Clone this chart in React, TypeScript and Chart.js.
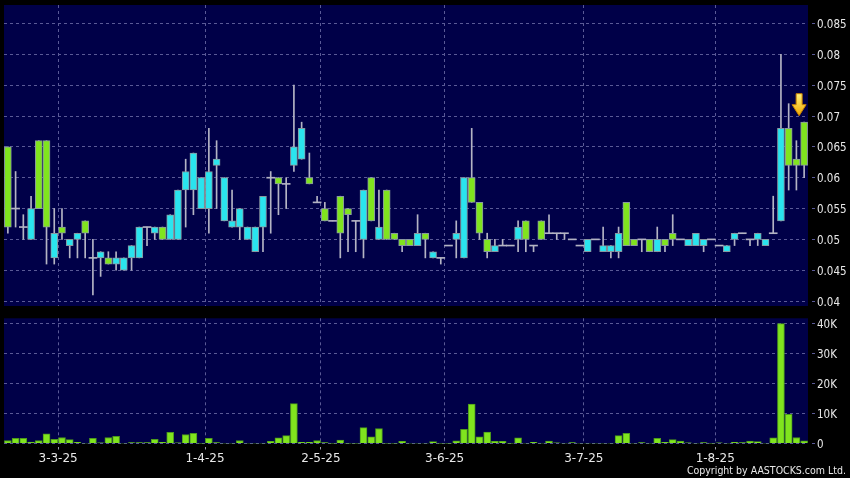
import React, { useEffect, useRef } from "react";
import { Chart, registerables } from "chart.js";
Chart.register(...registerables);

// ---- data (one entry per trading slot, left to right) ----
const opens = [
  0.065, 0.055, 0.052, 0.050, 0.066, 0.066, 0.047, 0.052, 0.049, 0.050,
  0.053, 0.047, 0.047, 0.047, 0.046, 0.045, 0.047, 0.047, 0.052, 0.051,
  0.052, 0.050, 0.050, 0.058, 0.058, 0.055, 0.055, 0.062, 0.053, 0.052,
  0.052, 0.050, 0.048, 0.052, 0.060, 0.060, 0.059, 0.062, 0.063, 0.060,
  0.056, 0.055, 0.053, 0.057, 0.055, 0.053, 0.050, 0.060, 0.050, 0.058,
  0.051, 0.050, 0.050, 0.049, 0.051, 0.047, 0.047, 0.049, 0.050, 0.047,
  0.060, 0.056, 0.050, 0.048, 0.049, 0.049, 0.050, 0.053, 0.049, 0.053,
  0.051, 0.051, 0.051, 0.050, 0.049, 0.048, 0.050, 0.048, 0.048, 0.048,
  0.056, 0.050, 0.050, 0.050, 0.048, 0.050, 0.051, 0.050, 0.049, 0.049,
  0.049, 0.050, 0.049, 0.048, 0.050, 0.051, 0.050, 0.050, 0.049, 0.051,
  0.053, 0.068, 0.063, 0.069,
];
const highs = [
  0.065, 0.061, 0.054, 0.057, 0.066, 0.066, 0.055, 0.055, 0.050, 0.051,
  0.053, 0.050, 0.048, 0.048, 0.048, 0.047, 0.049, 0.052, 0.052, 0.052,
  0.052, 0.054, 0.058, 0.063, 0.064, 0.060, 0.068, 0.066, 0.060, 0.058,
  0.055, 0.052, 0.052, 0.057, 0.061, 0.060, 0.060, 0.075, 0.069, 0.064,
  0.057, 0.056, 0.053, 0.057, 0.055, 0.053, 0.058, 0.060, 0.058, 0.058,
  0.051, 0.050, 0.050, 0.054, 0.051, 0.048, 0.047, 0.049, 0.053, 0.060,
  0.068, 0.056, 0.051, 0.050, 0.050, 0.049, 0.053, 0.053, 0.049, 0.053,
  0.054, 0.051, 0.051, 0.050, 0.049, 0.050, 0.050, 0.052, 0.049, 0.052,
  0.056, 0.050, 0.050, 0.050, 0.052, 0.050, 0.054, 0.050, 0.050, 0.051,
  0.050, 0.050, 0.049, 0.049, 0.051, 0.051, 0.050, 0.051, 0.050, 0.057,
  0.080, 0.072, 0.066, 0.069,
];
const lows = [
  0.051, 0.052, 0.050, 0.050, 0.055, 0.046, 0.046, 0.050, 0.047, 0.047,
  0.047, 0.041, 0.044, 0.046, 0.045, 0.045, 0.045, 0.047, 0.049, 0.050,
  0.050, 0.050, 0.050, 0.052, 0.054, 0.055, 0.051, 0.055, 0.053, 0.052,
  0.050, 0.050, 0.048, 0.048, 0.051, 0.054, 0.055, 0.061, 0.063, 0.059,
  0.056, 0.053, 0.053, 0.047, 0.048, 0.048, 0.047, 0.053, 0.050, 0.050,
  0.050, 0.048, 0.049, 0.049, 0.047, 0.047, 0.046, 0.049, 0.047, 0.047,
  0.056, 0.050, 0.047, 0.048, 0.049, 0.049, 0.048, 0.048, 0.048, 0.050,
  0.051, 0.050, 0.050, 0.050, 0.049, 0.048, 0.050, 0.048, 0.047, 0.047,
  0.049, 0.049, 0.048, 0.048, 0.048, 0.048, 0.049, 0.050, 0.049, 0.049,
  0.048, 0.050, 0.049, 0.048, 0.049, 0.051, 0.049, 0.049, 0.049, 0.051,
  0.053, 0.058, 0.058, 0.060,
];
const closes = [
  0.052, 0.055, 0.052, 0.055, 0.055, 0.052, 0.051, 0.051, 0.050, 0.051,
  0.051, 0.047, 0.048, 0.046, 0.047, 0.047, 0.049, 0.052, 0.052, 0.052,
  0.050, 0.054, 0.058, 0.061, 0.064, 0.060, 0.061, 0.063, 0.060, 0.053,
  0.055, 0.052, 0.052, 0.057, 0.060, 0.059, 0.059, 0.065, 0.068, 0.059,
  0.056, 0.053, 0.053, 0.051, 0.054, 0.053, 0.058, 0.053, 0.052, 0.050,
  0.050, 0.049, 0.049, 0.051, 0.050, 0.048, 0.047, 0.049, 0.051, 0.060,
  0.056, 0.051, 0.048, 0.049, 0.049, 0.049, 0.052, 0.050, 0.049, 0.050,
  0.051, 0.051, 0.051, 0.050, 0.049, 0.050, 0.050, 0.049, 0.049, 0.051,
  0.049, 0.049, 0.050, 0.048, 0.050, 0.049, 0.050, 0.050, 0.050, 0.051,
  0.050, 0.050, 0.049, 0.049, 0.051, 0.051, 0.050, 0.051, 0.050, 0.051,
  0.068, 0.062, 0.062, 0.062,
];
const volumes = [
  1000, 1700, 1700, 500, 1000, 3200, 1400, 2000, 1300, 400,
  100, 1700, 200, 2000, 2400, 100, 300, 300, 300, 1400,
  400, 3700, 200, 3000, 3400, 50, 1700, 300, 100, 100,
  1000, 100, 100, 100, 700, 1900, 2600, 13300, 400, 400,
  1000, 300, 50, 1100, 50, 50, 5300, 2200, 5000, 50,
  50, 700, 100, 100, 100, 600, 50, 50, 900, 4700,
  13100, 2200, 3800, 700, 700, 50, 1900, 100, 400, 100,
  800, 200, 100, 300, 100, 100, 100, 100, 100, 2600,
  3400, 100, 300, 100, 1700, 400, 1300, 800, 200, 100,
  300, 50, 200, 100, 400, 300, 800, 600, 100, 1900,
  39900, 9700, 2000, 900,
];
const dateTickSlots = [7.5, 26.5, 41.5, 57.5, 75.5, 92.5];
const dateTickLabels = ["3-3-25", "1-4-25", "2-5-25", "3-6-25", "3-7-25", "1-8-25"];
const priceTicks = [0.04, 0.045, 0.05, 0.055, 0.06, 0.065, 0.07, 0.075, 0.08, 0.085];
const volumeTicks = [0, 10000, 20000, 30000, 40000];

// ---- styles ----
const PLOT_BG = "#000048";
const GRID = "#5a5a96";
const UP = "#2ae4ee";
const DOWN = "#80e41e";
const BODY_EDGE = "#8898a0";
const WICK = "#b4b4c4";
const VOL_FILL = "#80e41e";
const VOL_EDGE = "#4c9a1c";
const TEXT = "#e8e8e8";
const FONT = "'DejaVu Sans', sans-serif";
const FONT_NARROW = "'DejaVu Sans Condensed', 'DejaVu Sans', sans-serif";
const N = opens.length;

const plotBg = {
  id: "plotBg",
  beforeDraw(chart: any) {
    const { ctx, chartArea: a } = chart;
    ctx.save();
    ctx.fillStyle = PLOT_BG;
    ctx.fillRect(a.left, a.top, a.right - a.left, a.bottom - a.top);
    ctx.restore();
  },
};

const arrowPlugin = {
  id: "lastArrow",
  afterDatasetsDraw(chart: any) {
    const i = N - 1;
    const { ctx } = chart;
    const x = chart.scales.x.getPixelForValue(i + 1) - 5;
    const tip = chart.scales.y.getPixelForValue(Math.max(opens[i], closes[i])) - 6.5;
    const top = tip - 22;
    ctx.save();
    const g = ctx.createLinearGradient(0, top, 0, tip);
    g.addColorStop(0, "#fff27a");
    g.addColorStop(1, "#f0a800");
    ctx.fillStyle = g;
    ctx.strokeStyle = "#c88000";
    ctx.lineWidth = 1;
    ctx.beginPath();
    ctx.moveTo(x - 3, top);
    ctx.lineTo(x + 3, top);
    ctx.lineTo(x + 3, tip - 11);
    ctx.lineTo(x + 7, tip - 11);
    ctx.lineTo(x, tip);
    ctx.lineTo(x - 7, tip - 11);
    ctx.lineTo(x - 3, tip - 11);
    ctx.closePath();
    ctx.fill();
    ctx.stroke();
    ctx.restore();
  },
};

function zeroPad(s: any) {
  s.paddingTop = 0;
  s.paddingBottom = 0;
  s.paddingLeft = 0;
  s.paddingRight = 0;
}

function xScale(showLabels: boolean) {
  return {
    type: "linear" as const,
    min: 0.5,
    max: N + 0.5,
    offset: false,
    afterBuildTicks: (s: any) => {
      s.ticks = dateTickSlots.map((v) => ({ value: v }));
    },
    afterFit: (s: any) => {
      s.height = showLabels ? 34.5 : 0;
      zeroPad(s);
    },
    border: { display: false, dash: [3, 3] },
    grid: {
      offset: false,
      color: GRID,
      lineWidth: 1,
      drawTicks: showLabels,
      tickLength: 6,
      tickColor: "#9a9aaa",
      tickBorderDash: [0, 3, 3],
    },
    ticks: {
      display: showLabels,
      autoSkip: false,
      maxRotation: 0,
      padding: 2,
      color: TEXT,
      font: { family: FONT, size: 12 },
      callback: (v: any) => {
        const k = dateTickSlots.indexOf(Number(v));
        return k >= 0 ? dateTickLabels[k] : "";
      },
    },
  };
}

function yScale(min: number, max: number, ticks: number[], fmt: (v: number) => string) {
  return {
    type: "linear" as const,
    position: "right" as const,
    min,
    max,
    afterBuildTicks: (s: any) => {
      s.ticks = ticks.map((v) => ({ value: v }));
    },
    afterFit: (s: any) => {
      s.width = 42;
      zeroPad(s);
    },
    border: { display: false, dash: [3, 3] },
    grid: {
      color: GRID,
      lineWidth: 1,
      drawTicks: true,
      tickLength: 7,
      tickColor: GRID,
      tickBorderDash: [0, 4, 3],
    },
    ticks: {
      padding: 2,
      labelOffset: 1.5,
      color: TEXT,
      font: { family: FONT_NARROW, size: 11.5 },
      callback: (v: any) => fmt(Number(v)),
    },
  };
}

export default function App() {
  const priceRef = useRef<HTMLCanvasElement>(null);
  const volRef = useRef<HTMLCanvasElement>(null);

  useEffect(() => {
    const idx = opens.map((_, i) => i);
    const wickData = idx.map((i) => ({ x: i + 1, y: [lows[i], highs[i]] }));
    const bodyIdx = idx.filter((i) => opens[i] !== closes[i]);
    const bodyData = bodyIdx.map((i) => ({
      x: i + 1,
      y: [Math.min(opens[i], closes[i]), Math.max(opens[i], closes[i])],
    }));
    const bodyColors = bodyIdx.map((i) => (closes[i] > opens[i] ? UP : DOWN));
    const dojiHalf = 0.00008;
    const dojiData = idx
      .filter((i) => opens[i] === closes[i])
      .map((i) => ({ x: i + 1, y: [opens[i] - dojiHalf, opens[i] + dojiHalf] }));

    const price = new Chart(priceRef.current!, {
      type: "bar",
      data: {
        datasets: [
          {
            label: "wick",
            data: wickData as any,
            backgroundColor: WICK,
            borderWidth: 0,
            barThickness: 1,
            grouped: false,
            order: 3,
          } as any,
          {
            label: "body",
            data: bodyData as any,
            backgroundColor: bodyColors,
            borderColor: BODY_EDGE,
            borderWidth: 1,
            borderSkipped: false,
            barThickness: 7,
            grouped: false,
            order: 2,
          } as any,
          {
            label: "doji",
            data: dojiData as any,
            backgroundColor: WICK,
            borderWidth: 0,
            barThickness: 8,
            grouped: false,
            order: 1,
          } as any,
        ],
      },
      options: {
        animation: false,
        responsive: false,
        maintainAspectRatio: false,
        layout: { padding: { left: 4, top: 5, bottom: 6, right: 0 } },
        plugins: { legend: { display: false }, tooltip: { enabled: false } },
        scales: {
          x: xScale(false) as any,
          y: yScale(0.0392, 0.088, priceTicks, (v) => String(Number(v.toFixed(3)))) as any,
        },
      },
      plugins: [plotBg, arrowPlugin],
    });

    const vol = new Chart(volRef.current!, {
      type: "bar",
      data: {
        datasets: [
          {
            label: "volume",
            data: volumes.map((v, i) => ({ x: i + 1, y: v })) as any,
            backgroundColor: VOL_FILL,
            borderColor: VOL_EDGE,
            borderWidth: 1,
            barThickness: 7,
          } as any,
        ],
      },
      options: {
        animation: false,
        responsive: false,
        maintainAspectRatio: false,
        layout: { padding: { left: 4, top: 6.3, bottom: 0, right: 0 } },
        plugins: { legend: { display: false }, tooltip: { enabled: false } },
        scales: {
          x: xScale(true) as any,
          y: yScale(0, 41700, volumeTicks, (v) => (v === 0 ? "0" : v / 1000 + "K")) as any,
        },
      },
      plugins: [plotBg],
    });

    return () => {
      price.destroy();
      vol.destroy();
    };
  }, []);

  return (
    <div
      style={{
        position: "fixed",
        left: 0,
        top: 0,
        width: 850,
        height: 478,
        background: "#000",
        overflow: "hidden",
      }}
    >
      <canvas
        ref={priceRef}
        width={850}
        height={312}
        style={{ position: "absolute", left: 0, top: 0, width: 850, height: 312 }}
      />
      <canvas
        ref={volRef}
        width={850}
        height={166}
        style={{ position: "absolute", left: 0, top: 312, width: 850, height: 166 }}
      />
      <div
        style={{
          position: "absolute",
          right: 4,
          top: 465,
          fontFamily: FONT_NARROW,
          fontSize: 10.5,
          lineHeight: 1,
          color: TEXT,
          whiteSpace: "nowrap",
        }}
      >
        Copyright by AASTOCKS.com Ltd.
      </div>
    </div>
  );
}
